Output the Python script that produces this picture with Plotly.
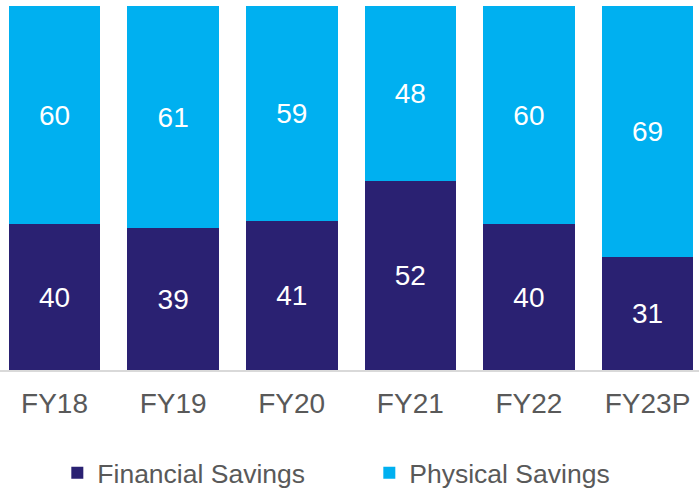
import plotly.graph_objects as go

years = ["FY18", "FY19", "FY20", "FY21", "FY22", "FY23P"]
financial = [40, 39, 41, 52, 40, 31]
physical = [60, 61, 59, 48, 60, 69]

NAVY = "#2a2172"
SKY = "#00b0f0"
GREY = "#595959"
FONT = "Liberation Sans, Arial, sans-serif"
SIZE = 28

fig = go.Figure()
fig.add_trace(go.Bar(
    x=years, y=financial, name="Financial Savings",
    marker=dict(color=NAVY, line=dict(width=0)),
    text=financial, texttemplate="%{text}", textposition="inside",
    insidetextanchor="middle",
    textfont=dict(color="white", size=SIZE, family=FONT),
))
fig.add_trace(go.Bar(
    x=years, y=physical, name="Physical Savings",
    marker=dict(color=SKY, line=dict(width=0)),
    text=physical, texttemplate="%{text}", textposition="inside",
    insidetextanchor="middle",
    textfont=dict(color="white", size=SIZE, family=FONT),
))

fig.update_layout(
    width=699, height=491,
    margin=dict(l=0, r=0, t=6, b=121),
    barmode="stack", bargap=0.228,
    plot_bgcolor="white", paper_bgcolor="white",
    font=dict(family=FONT, color=GREY, size=SIZE),
    uniformtext=dict(minsize=SIZE, mode="show"),
    showlegend=True,
    legend=dict(
        orientation="h", x=0.082, xanchor="left",
        yref="container", y=1 - 473 / 491, yanchor="middle",
        font=dict(size=26.5, color=GREY, family=FONT),
        traceorder="normal", itemclick=False,
        entrywidth=267, entrywidthmode="pixels",
    ),
    xaxis=dict(
        type="category", range=[-0.46, 5.434],
        showline=True, linecolor="#d9d9d9", linewidth=2,
        ticks="", showgrid=False, ticklabelstandoff=7,
        tickfont=dict(size=SIZE, color=GREY, family=FONT),
    ),
    yaxis=dict(
        range=[0, 100], visible=False, showgrid=False, zeroline=False,
    ),
)

fig.write_html("out.html")
